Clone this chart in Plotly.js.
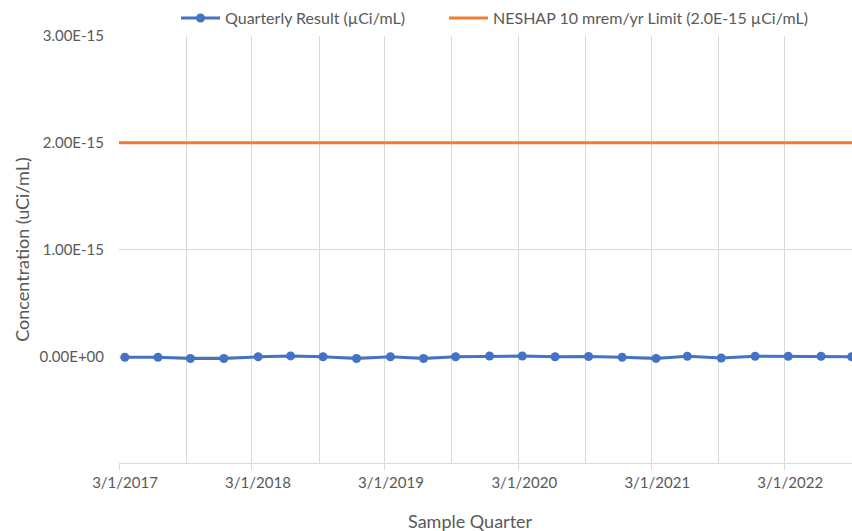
<!DOCTYPE html>
<html>
<head>
<meta charset="utf-8">
<script src="https://cdn.plot.ly/plotly-3.0.1.min.js"></script>
<style>html,body{margin:0;padding:0;background:#fff;}#chart{width:852px;height:531px;}</style>
</head>
<body>
<div id="chart"></div>
<script>
// Sample dates (quarterly) and results (µCi/mL)
const sampleDates = [
  '2017-03-17','2017-06-16','2017-09-13','2017-12-14',
  '2018-03-18','2018-06-15','2018-09-12','2018-12-13',
  '2019-03-16','2019-06-15','2019-09-11','2019-12-13',
  '2020-03-12','2020-06-10','2020-09-10','2020-12-11',
  '2021-03-14','2021-06-08','2021-09-09','2021-12-11',
  '2022-03-12','2022-06-10','2022-09-02'
];
const quarterlyResult = [
  -0.9e-17, -0.9e-17, -2.1e-17, -2.1e-17,
  -0.5e-17,  0.3e-17, -0.5e-17, -2.1e-17,
  -0.5e-17, -2.1e-17, -0.5e-17,  0.2e-17,
   0.2e-17, -0.5e-17, -0.2e-17, -0.9e-17,
  -2.0e-17,  0.0e-17, -1.6e-17,  0.0e-17,
   0.0e-17,  0.0e-17, -0.5e-17
];
const limitDates = ['2017-03-01', '2022-09-03'];
const limitValues = [2.0e-15, 2.0e-15];

const xRange = ['2017-03-01', '2022-09-03'];
const yTickVals = [-1e-15, 0, 1e-15, 2e-15, 3e-15];
const yTickText = ['', '0.00E+00', '1.00E-15', '2.00E-15', '3.00E-15'];
const xTickVals = ['2017-03-01','2018-03-01','2019-03-01','2020-03-01','2021-03-01','2022-03-01'];
const xTickText = ['3/1/2017','3/1/2018','3/1/2019','3/1/2020','3/1/2021','3/1/2022'];

const FONT = 'Lato, "Open Sans", sans-serif';
const GRAY = '#595959';
const GRID = '#D9D9D9';

const traces = [
  {
    x: sampleDates, y: quarterlyResult, type: 'scatter', mode: 'lines+markers',
    name: 'Quarterly Result (µCi/mL)', legend: 'legend',
    line: {color: '#4472C4', width: 3},
    marker: {color: '#4472C4', size: 9}
  },
  {
    x: limitDates, y: limitValues, type: 'scatter', mode: 'lines',
    name: 'NESHAP 10 mrem/yr Limit (2.0E-15 µCi/mL)', legend: 'legend2',
    line: {color: '#ED7D31', width: 3}
  }
];

const legendCommon = {
  orientation: 'h', xanchor: 'left', y: 1.042, yanchor: 'middle',
  font: {family: FONT, size: 16, color: GRAY}, itemwidth: 39, bgcolor: 'rgba(0,0,0,0)'
};

const layout = {
  width: 852, height: 531,
  margin: {l: 119, r: 0, t: 36, b: 68, pad: 0},
  paper_bgcolor: '#fff', plot_bgcolor: '#fff',
  font: {family: FONT, size: 16, color: GRAY},
  showlegend: true,
  legend: Object.assign({}, legendCommon, {x: 0.0778}),
  legend2: Object.assign({}, legendCommon, {x: 0.4434}),
  xaxis: {
    type: 'date', range: xRange,
    tickmode: 'array', tickvals: xTickVals, ticktext: xTickText,
    showgrid: true, gridcolor: GRID, gridwidth: 1,
    minor: {dtick: 'M6', tick0: '2017-09-01', showgrid: true, gridcolor: GRID, gridwidth: 1, ticklen: 0},
    showline: true, linecolor: GRID, linewidth: 1,
    ticks: 'outside', ticklen: 6, tickcolor: GRID,
    ticklabelshift: 6,
    tickfont: {family: FONT, size: 15, color: GRAY},
    zeroline: false, fixedrange: true
  },
  yaxis: {
    range: [-1e-15, 3e-15],
    tickmode: 'array', tickvals: yTickVals, ticktext: yTickText,
    showgrid: true, gridcolor: GRID, gridwidth: 1,
    showline: false, zeroline: false, ticks: '',
    ticklabelstandoff: 14,
    tickfont: {family: FONT, size: 15, color: GRAY},
    title: {text: 'Concentration (uCi/mL)', font: {family: FONT, size: 18, color: GRAY}, standoff: 5},
    fixedrange: true
  },
  annotations: [{
    text: 'Sample Quarter', xref: 'paper', yref: 'paper',
    x: 0.48, y: -0.135, xanchor: 'center', yanchor: 'middle', showarrow: false,
    font: {family: FONT, size: 18, color: GRAY}
  }]
};

Plotly.newPlot('chart', traces, layout, {displayModeBar: false, staticPlot: true});
</script>
</body>
</html>
